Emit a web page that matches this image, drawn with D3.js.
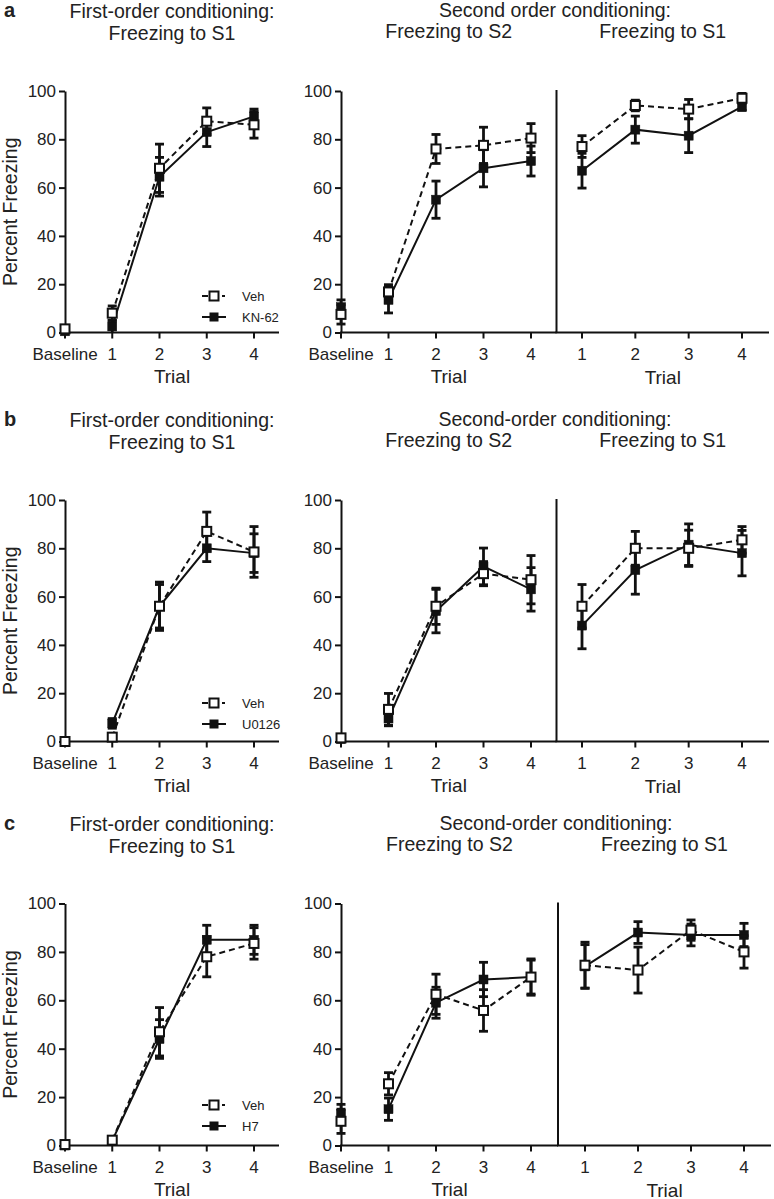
<!DOCTYPE html>
<html>
<head>
<meta charset="utf-8">
<script src="https://cdn.jsdelivr.net/npm/d3@7"></script>
<style>
  body { margin: 0; background: #fff; }
  svg { display: block; font-family: "Liberation Sans", Arial, sans-serif; }
</style>
</head>
<body>
<svg id="chart" width="774" height="1199"></svg>
<script>
// ---------- DATA ----------
const trialLabels = ["Baseline", "1", "2", "3", "4"];
const s1TrialLabels = ["1", "2", "3", "4"];
const yTickValues = [0, 20, 40, 60, 80, 100];
const panelLetters = ["a", "b", "c"];
const drugNames = ["KN-62", "U0126", "H7"];
const vehName = "Veh";
const secondTitles = ["Second order conditioning:", "Second-order conditioning:", "Second-order conditioning:"];

// Panel a
const aFirstVeh = [1.5, 8, 68, 87.5, 86];
const aFirstVehErr = [1, 3, 10, 5.5, 5.5];
const aFirstDrug = [0.5, 2.5, 64.5, 83, 89.5];
const aFirstDrugErr = [1, 2.5, 8, 6, 3];
const aS2Veh = [7.5, 16.8, 76, 77.5, 80.5];
const aS2VehErr = [4, 3, 6, 7.5, 6];
const aS2Drug = [10.5, 13.5, 55, 68, 71];
const aS2DrugErr = [3, 5.4, 7.7, 7.7, 6.2];
const aS1Veh = [77, 94, 92.5, 97];
const aS1VehErr = [4.5, 2.2, 4, 2];
const aS1Drug = [67, 84, 81.5, 93.5];
const aS1DrugErr = [7.2, 5.6, 7, 1.5];

// Panel b
const bFirstVeh = [0, 1.8, 56, 87, 78.5];
const bFirstVehErr = [0.5, 1, 10, 8, 10.5];
const bFirstDrug = [0, 7.5, 56, 80, 78];
const bFirstDrugErr = [0.5, 2, 9, 5.5, 8];
const bS2Veh = [1.5, 13.3, 56, 69.5, 67];
const bS2VehErr = [1, 6.6, 7.5, 5, 10];
const bS2Drug = [1, 9.5, 54, 72.5, 63];
const bS2DrugErr = [1, 3, 9, 7.6, 9];
const bS1Veh = [56, 80, 80, 83.5];
const bS1VehErr = [9, 7, 7.5, 5.5];
const bS1Drug = [48, 71, 81.5, 78];
const bS1DrugErr = [9.6, 10, 8.6, 9.4];

// Panel c
const cFirstVeh = [0.4, 2.2, 47, 78, 83.5];
const cFirstVehErr = [0.5, 1, 10, 8.3, 6.5];
const cFirstDrug = [0, 2, 44, 85, 85];
const cFirstDrugErr = [0.5, 1, 8, 6, 6];
const cS2Veh = [10, 25.5, 62.5, 55.8, 69.6];
const cS2VehErr = [5, 4.6, 8.3, 8.6, 7.5];
const cS2Drug = [13, 15, 59, 68.6, 69.6];
const cS2DrugErr = [4, 4.6, 6.4, 7.1, 7];
const cS1Veh = [74.5, 72.5, 89, 80];
const cS1VehErr = [9.5, 9.5, 4.2, 6.7];
const cS1Drug = [74, 88, 87, 87];
const cS1DrugErr = [9, 4.5, 4.5, 4.8];

const panelsData = [
  {first: [aFirstVeh, aFirstVehErr, aFirstDrug, aFirstDrugErr], s2: [aS2Veh, aS2VehErr, aS2Drug, aS2DrugErr], s1: [aS1Veh, aS1VehErr, aS1Drug, aS1DrugErr]},
  {first: [bFirstVeh, bFirstVehErr, bFirstDrug, bFirstDrugErr], s2: [bS2Veh, bS2VehErr, bS2Drug, bS2DrugErr], s1: [bS1Veh, bS1VehErr, bS1Drug, bS1DrugErr]},
  {first: [cFirstVeh, cFirstVehErr, cFirstDrug, cFirstDrugErr], s2: [cS2Veh, cS2VehErr, cS2Drug, cS2DrugErr], s1: [cS1Veh, cS1VehErr, cS1Drug, cS1DrugErr]}
];

// ---------- LAYOUT ----------
const rowLayout = [
  {top: 91, bottom: 332.5, divider: 556.5, s1Range: [582, 742], axisEnd: 769, legendY: 296},
  {top: 500, bottom: 741.5, divider: 556.5, s1Range: [582, 742], axisEnd: 769, legendY: 703},
  {top: 903.5, bottom: 1145.5, divider: 558, s1Range: [585, 744], axisEnd: 771, legendY: 1105}
];
const leftRange = [65, 254];
const leftAxisEnd = 279;
const rightS2Range = [341, 531];

const svg = d3.select("#chart");
const FS_TICK = 17, FS_TITLE = 19.5, FS_AXIS = 19, FS_LEG = 13;

// connectFrom: index (into vals) from which the line is drawn (baseline not connected)
function drawSeries(g, x, y, idxOffset, vals, errs, open, connectFrom) {
  const pts = vals.map((v, i) => ({xi: i + idxOffset, v, e: errs[i], i}));
  const line = d3.line().x(d => x(d.xi)).y(d => y(d.v));
  g.append("path").datum(pts.filter(d => d.i >= connectFrom)).attr("d", line)
    .attr("fill", "none").attr("stroke", "#111").attr("stroke-width", 2)
    .attr("stroke-dasharray", open ? "6,4" : null);
  const eb = g.append("g").selectAll("g").data(pts).join("g");
  eb.append("line").attr("x1", d => x(d.xi)).attr("x2", d => x(d.xi))
    .attr("y1", d => y(Math.max(0, d.v - d.e))).attr("y2", d => y(d.v + d.e))
    .attr("stroke", "#111").attr("stroke-width", 2.8);
  eb.append("line").attr("x1", d => x(d.xi) - 4.5).attr("x2", d => x(d.xi) + 4.5)
    .attr("y1", d => y(d.v + d.e)).attr("y2", d => y(d.v + d.e))
    .attr("stroke", "#111").attr("stroke-width", 2.8);
  eb.filter(d => d.v - d.e > 0).append("line").attr("x1", d => x(d.xi) - 4.5).attr("x2", d => x(d.xi) + 4.5)
    .attr("y1", d => y(d.v - d.e)).attr("y2", d => y(d.v - d.e))
    .attr("stroke", "#111").attr("stroke-width", 2.8);
  g.append("g").selectAll("rect").data(pts).join("rect")
    .attr("x", d => x(d.xi) - 4.5).attr("y", d => y(d.v) - 4.5)
    .attr("width", 9).attr("height", 9)
    .attr("fill", open ? "#fff" : "#111")
    .attr("stroke", "#111").attr("stroke-width", open ? 2 : 0.5);
}

function yAxis(g, y, xPos) {
  const ax = d3.axisLeft(y).tickValues(yTickValues).tickSize(6).tickPadding(3).tickSizeOuter(0);
  const a = g.append("g").attr("transform", `translate(${xPos},0)`).call(ax);
  a.select(".domain").attr("stroke", "#111").attr("stroke-width", 2);
  a.selectAll(".tick line").attr("stroke", "#111").attr("stroke-width", 2);
  a.selectAll(".tick text").attr("font-size", FS_TICK).attr("fill", "#222")
    .attr("font-family", "Liberation Sans, Arial, sans-serif");
}

function xAxis(g, x, yPos, values, labels, from, to) {
  g.append("line").attr("x1", from - 1).attr("x2", to).attr("y1", yPos).attr("y2", yPos)
    .attr("stroke", "#111").attr("stroke-width", 2);
  const t = g.append("g").selectAll("g").data(values).join("g");
  t.append("line").attr("x1", d => x(d)).attr("x2", d => x(d)).attr("y1", yPos).attr("y2", yPos + 6)
    .attr("stroke", "#111").attr("stroke-width", 2);
  t.append("text").attr("x", d => x(d)).attr("y", yPos + 27).attr("text-anchor", "middle")
    .attr("font-size", FS_TICK).attr("fill", "#222").text((d, i) => labels[i]);
}

function text(g, x, y, s, size, opts = {}) {
  return g.append("text").attr("x", x).attr("y", y).attr("text-anchor", opts.anchor || "middle")
    .attr("font-size", size).attr("fill", "#222").attr("font-weight", opts.weight || null).text(s);
}

panelsData.forEach((pd, r) => {
  const L = rowLayout[r];
  const g = svg.append("g");
  const y = d3.scaleLinear().domain([0, 100]).range([L.bottom, L.top]);

  // ---- Left chart ----
  const xL = d3.scaleLinear().domain([0, 4]).range(leftRange);
  yAxis(g, y, leftRange[0]);
  xAxis(g, xL, L.bottom, [0, 1, 2, 3, 4], trialLabels, leftRange[0], leftAxisEnd);
  drawSeries(g, xL, y, 0, pd.first[2], pd.first[3], false, 1);
  drawSeries(g, xL, y, 0, pd.first[0], pd.first[1], true, 1);
  const leftCenter = (leftRange[0] + leftAxisEnd) / 2;
  text(g, leftCenter, L.bottom + 50, "Trial", FS_AXIS);
  g.append("text").attr("transform", `translate(17,${(L.top + L.bottom) / 2}) rotate(-90)`)
    .attr("text-anchor", "middle").attr("font-size", FS_TITLE).attr("fill", "#222").text("Percent Freezing");
  text(g, leftCenter, L.top - 73, "First-order conditioning:", FS_TITLE);
  text(g, leftCenter, L.top - 51, "Freezing to S1", FS_TITLE);
  text(g, 4, L.top - 74, panelLetters[r], 20, {anchor: "start", weight: "bold"});

  // legend
  const lg = g.append("g");
  const lx0 = 202, lx1 = 226, lsq = 214;
  lg.append("line").attr("x1", lx0).attr("x2", lx1 - 1).attr("y1", L.legendY).attr("y2", L.legendY)
    .attr("stroke", "#111").attr("stroke-width", 2).attr("stroke-dasharray", "6,4");
  lg.append("rect").attr("x", lsq - 4.5).attr("y", L.legendY - 4.5).attr("width", 9).attr("height", 9)
    .attr("fill", "#fff").attr("stroke", "#111").attr("stroke-width", 2);
  lg.append("line").attr("x1", lx0).attr("x2", lx1).attr("y1", L.legendY + 21).attr("y2", L.legendY + 21)
    .attr("stroke", "#111").attr("stroke-width", 2);
  lg.append("rect").attr("x", lsq - 4.5).attr("y", L.legendY + 21 - 4.5).attr("width", 9).attr("height", 9)
    .attr("fill", "#111");
  text(lg, 242, L.legendY + 4.5, vehName, FS_LEG, {anchor: "start"});
  text(lg, 242, L.legendY + 25.5, drugNames[r], FS_LEG, {anchor: "start"});

  // ---- Right chart ----
  const xS2 = d3.scaleLinear().domain([0, 4]).range(rightS2Range);
  const xS1 = d3.scaleLinear().domain([1, 4]).range(L.s1Range);
  yAxis(g, y, rightS2Range[0]);
  xAxis(g, xS2, L.bottom, [0, 1, 2, 3, 4], trialLabels, rightS2Range[0], L.divider);
  xAxis(g, xS1, L.bottom, [1, 2, 3, 4], s1TrialLabels, L.divider, L.axisEnd);
  g.append("line").attr("x1", L.divider).attr("x2", L.divider).attr("y1", L.top - 1).attr("y2", L.bottom)
    .attr("stroke", "#111").attr("stroke-width", 2);
  drawSeries(g, xS2, y, 0, pd.s2[2], pd.s2[3], false, 1);
  drawSeries(g, xS2, y, 0, pd.s2[0], pd.s2[1], true, 1);
  drawSeries(g, xS1, y, 1, pd.s1[2], pd.s1[3], false, 0);
  drawSeries(g, xS1, y, 1, pd.s1[0], pd.s1[1], true, 0);
  const s2Center = (rightS2Range[0] + L.divider) / 2;
  const s1Center = (L.divider + L.axisEnd) / 2;
  text(g, s2Center, L.bottom + 50, "Trial", FS_AXIS);
  text(g, s1Center, L.bottom + 51, "Trial", FS_AXIS);
  text(g, (rightS2Range[0] + L.axisEnd) / 2, L.top - 74, secondTitles[r], FS_TITLE);
  text(g, s2Center, L.top - 53, "Freezing to S2", FS_TITLE);
  text(g, s1Center, L.top - 53, "Freezing to S1", FS_TITLE);
});
</script>
</body>
</html>
